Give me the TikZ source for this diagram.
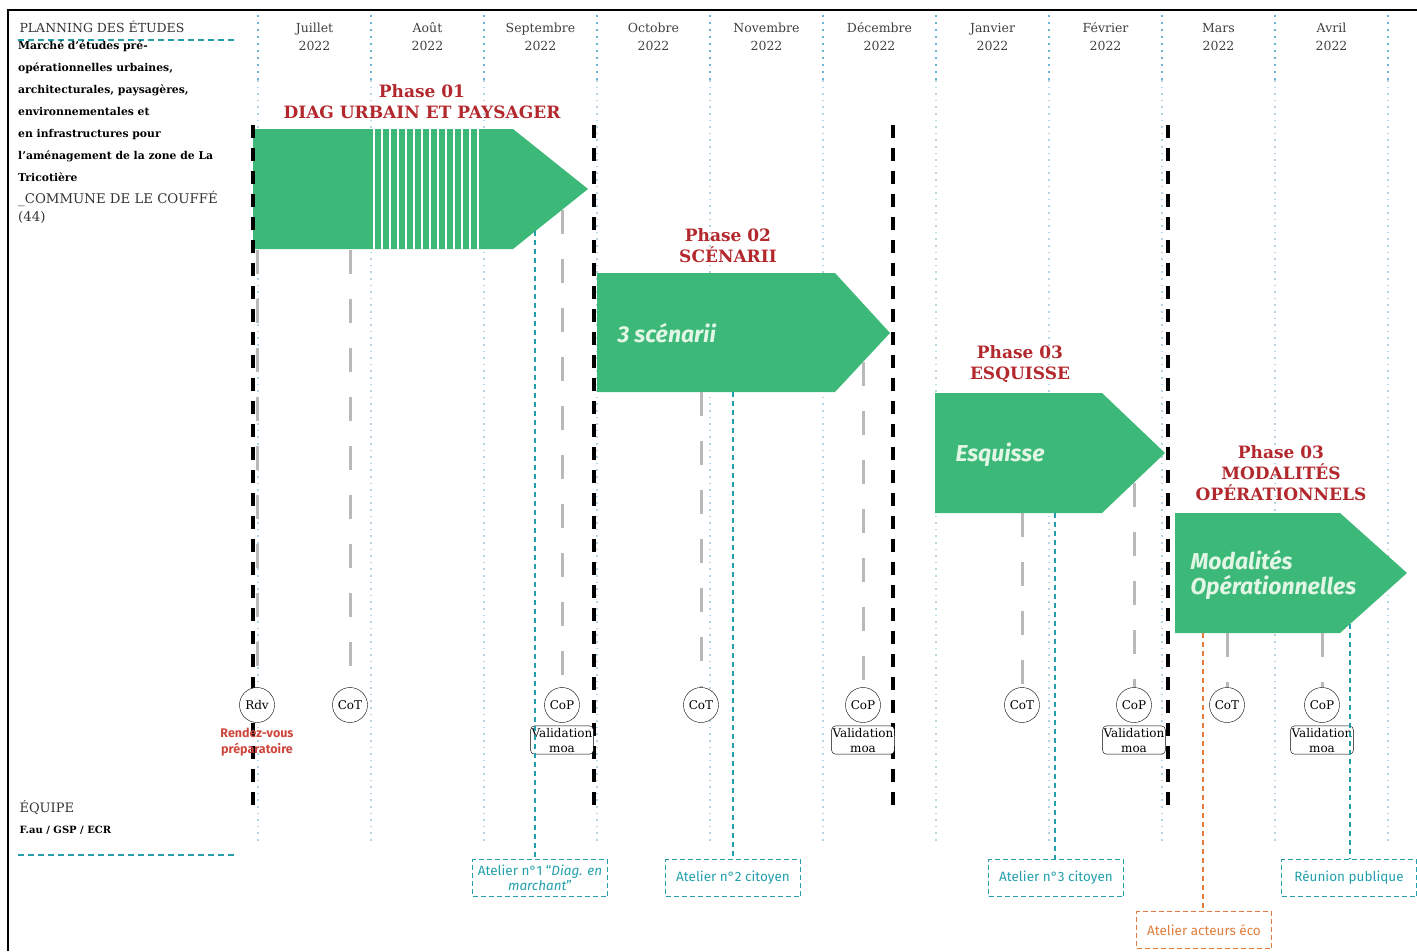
\documentclass[tikz,border=0pt]{standalone}
\usepackage{fontspec}
\setmainfont{DejaVu Serif}
\newfontfamily\dinfont{Fira Sans}
\usepackage{xcolor}
\usetikzlibrary{positioning}

\definecolor{phasegreen}{RGB}{60,184,120}
\definecolor{phasered}{RGB}{178,40,45}
\definecolor{rdvred}{RGB}{205,70,60}
\definecolor{ateliercyan}{RGB}{35,160,172}
\definecolor{ecoorange}{RGB}{225,125,60}
\definecolor{txtgreen}{RGB}{226,246,230}

\begin{document}
\begin{tikzpicture}[x=1pt,y=-1pt,
    month/.style={align=center,text=black!75,font=\fontsize{12.5}{18}\selectfont},
    sepline/.style={cyan!45!gray!45,line width=1.6pt,dash pattern=on 1.6pt off 5pt},
    septop/.style={cyan!60!gray!85,line width=2pt,dash pattern=on 2pt off 5pt},
    jalon/.style={line width=3.5pt,dash pattern=on 13pt off 10pt},
    phasetitle/.style={align=center,text=phasered,font=\bfseries\fontsize{17}{21}\selectfont},
    phasetext/.style={anchor=west,align=left,text=txtgreen,font=\dinfont\bfseries\itshape\fontsize{23}{25}\selectfont},
    meet/.style={circle,draw,fill=white,minimum size=35pt,inner sep=0pt,font=\fontsize{12}{14}\selectfont},
    valid/.style={draw,fill=white,rounded corners=4pt,align=center,inner xsep=1pt,inner ysep=2pt,font=\fontsize{12}{15}\selectfont},
    greyline/.style={gray!55,line width=3pt,dash pattern=on 24pt off 25pt},
    atelier/.style={draw=ateliercyan,text=ateliercyan,line width=1.5pt,dash pattern=on 5pt off 3pt,minimum width=135pt,minimum height=37pt,inner xsep=1pt,align=center,font=\dinfont\fontsize{13.5}{15}\selectfont},
    ateliertrait/.style={ateliercyan,line width=2.2pt,dash pattern=on 5pt off 4pt},
  ]
  \useasboundingbox (0,0) rectangle (1417,951);
  \draw[line width=1.5pt] (8,951) -- (8,10) -- (1417,10);

  % header
  \node[anchor=west,text=black!80,font=\fontsize{12.5}{15}\selectfont] (planning) at (16,27) {PLANNING DES ÉTUDES};
  \draw[ateliercyan,line width=1.5pt,dash pattern=on 6pt off 4pt] (18,40) -- (235,40);
  \node[anchor=north west,align=left,inner sep=0pt,font=\bfseries\fontsize{10.8}{22}\selectfont] (marche) at (18,41)
    {Marché d'études pré-\\opérationnelles urbaines,\\architecturales, paysagères,\\environnementales et\\en infrastructures pour\\l'aménagement de la zone de La\\Tricotière};
  \node[anchor=north west,align=left,inner sep=0pt,text=black!80,font=\fontsize{13.3}{18}\selectfont] (commune) at (18,191)
    {\_COMMUNE DE LE COUFFÉ\\(44)};
  \node[anchor=west,text=black!80,font=\fontsize{13}{15}\selectfont] (equipe) at (16,808) {ÉQUIPE};
  \node[anchor=west,font=\bfseries\fontsize{10}{12}\selectfont] (agences) at (16,830) {F.au / GSP / ECR};
  \draw[ateliercyan,line width=1.5pt,dash pattern=on 6pt off 4pt] (18,855) -- (235,855);

  % months
  \foreach \m [count=\i] in {Juillet,Août,Septembre,Octobre,Novembre,Décembre,Janvier,Février,Mars,Avril}
    \node[month] (m\i) at (201.5+113*\i,37) {\m\\2022};
  \foreach \i in {0,...,10} {
    \draw[sepline] (258+113*\i,80) -- (258+113*\i,845);
    \draw[septop] (258+113*\i,15) -- (258+113*\i,80);
  }

  % phases
  \fill[phasegreen] (253,129) -- (513,129) -- (588,189) -- (513,249) -- (253,249) -- cycle;
  \foreach \s in {374,382,...,478}
    \draw[white,line width=1.8pt] (\s,129) -- (\s,249);
  \fill[phasegreen] (597,273) -- (835,273) -- (890,333) -- (835,392) -- (597,392) -- cycle;
  \fill[phasegreen] (935,393) -- (1102,393) -- (1165,453) -- (1102,513) -- (935,513) -- cycle;
  \fill[phasegreen] (1175,513) -- (1340,513) -- (1407,573) -- (1340,633) -- (1175,633) -- cycle;

  \node[phasetitle] (ph1) at (422,102) {Phase 01\\DIAG URBAIN ET PAYSAGER};
  \node[phasetitle] (ph2) at (728,246) {Phase 02\\SCÉNARII};
  \node[phasetitle] (ph3) at (1020,364) {Phase 03\\ESQUISSE};
  \node[phasetitle] (ph4) at (1281,473) {Phase 03\\MODALITÉS\\OPÉRATIONNELS};
  \node[phasetext] (scen) at (614,333) {3 scénarii};
  \node[phasetext] (esq) at (952,455) {Esquisse};
  \node[phasetext] (moda) at (1187,575) {Modalités\\Opérationnelles};

  % jalons
  \foreach \x in {253,594,893,1168}
    \draw[jalon] (\x,125) -- (\x,815);

  % meetings
  \coordinate (t-rdv) at (257,250);
  \coordinate (t-cot1) at (350,250);
  \coordinate (t-cop1) at (562,210);
  \coordinate (t-cot2) at (701,392);
  \coordinate (t-cop2) at (863,362);
  \coordinate (t-cot3) at (1022,513);
  \coordinate (t-cop3) at (1134,483);
  \coordinate (t-cot4) at (1227,633);
  \coordinate (t-cop4) at (1322,633);
  \node[meet] (rdv) at (257,705) {Rdv};
  \node[meet] (cot1) at (350,705) {CoT};
  \node[meet] (cop1) at (562,705) {CoP};
  \node[meet] (cot2) at (701,705) {CoT};
  \node[meet] (cop2) at (863,705) {CoP};
  \node[meet] (cot3) at (1022,705) {CoT};
  \node[meet] (cop3) at (1134,705) {CoP};
  \node[meet] (cot4) at (1227,705) {CoT};
  \node[meet] (cop4) at (1322,705) {CoP};
  \foreach \n in {rdv,cot1,cop1,cot2,cop2,cot3,cop3,cot4,cop4}
    \draw[greyline] (t-\n) -- (\n.north);

  \node[below=2pt of rdv,align=center,text=rdvred,font=\dinfont\bfseries\fontsize{12.5}{16}\selectfont] (rdvtxt) {Rendez-vous\\préparatoire};
  \foreach \n in {cop1,cop2,cop3,cop4}
    \node[valid,below=3pt of \n] (v-\n) {Validation\\moa};

  % ateliers
  \node[atelier] (at1) at (540,878) {Atelier n°1 “\textit{Diag. en}\\\textit{marchant}”};
  \node[atelier] (at2) at (733,878) {Atelier n°2 citoyen};
  \node[atelier] (at3) at (1056,878) {Atelier n°3 citoyen};
  \node[atelier] (reunion) at (1349,878) {Réunion publique};
  \node[atelier,draw=ecoorange,text=ecoorange] (eco) at (1204,930) {Atelier acteurs éco};
  \coordinate (t-at1) at (535,231);
  \coordinate (t-at2) at (733,392);
  \coordinate (t-at3) at (1055,513);
  \coordinate (t-reunion) at (1350,624);
  \coordinate (t-eco) at (1203,633);
  \foreach \n in {at1,at2,at3,reunion}
    \draw[ateliertrait] (t-\n) -- (t-\n |- \n.north);
  \draw[ateliertrait,ecoorange] (t-eco) -- (t-eco |- eco.north);
\end{tikzpicture}
\end{document}
